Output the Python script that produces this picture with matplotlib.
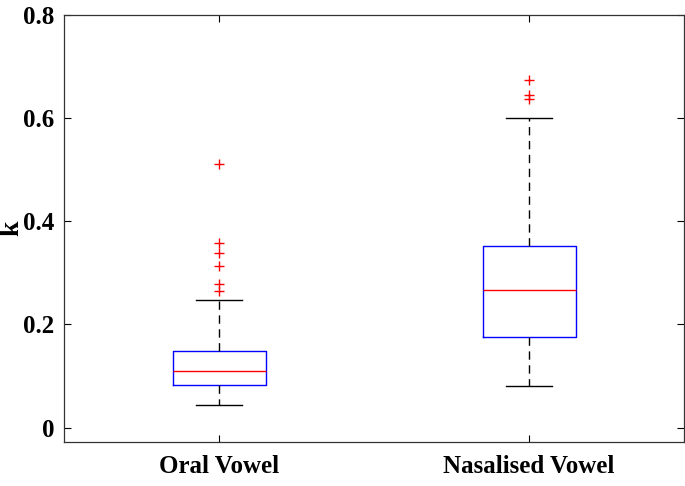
import matplotlib
matplotlib.use("Agg")
import matplotlib.pyplot as plt

# (MATLAB-style boxplot)
labels = ['Oral Vowel', 'Nasalised Vowel']
whislo = [0.043, 0.080]
q1 = [0.082, 0.175]
med = [0.109, 0.267]
q3 = [0.148, 0.352]
whishi = [0.247, 0.601]
fliers = [[0.512, 0.357, 0.338, 0.313, 0.278, 0.265],
          [0.674, 0.645, 0.638]]

plt.rcParams['font.family'] = ['Liberation Serif', 'DejaVu Serif']
plt.rcParams['font.weight'] = 'bold'

stats = []
for i in range(len(labels)):
	stats.append(dict(label=labels[i], whislo=whislo[i], q1=q1[i], med=med[i],
	                  q3=q3[i], whishi=whishi[i], fliers=fliers[i]))

fig = plt.figure(figsize=(6.85, 4.86), dpi=100)
ax = fig.add_axes([64/685, 1-442/486, 620/685, 427/486])

ax.bxp(stats, positions=[1, 2], widths=0.3,
       boxprops=dict(color='blue', lw=1),
       medianprops=dict(color='red', lw=1),
       whiskerprops=dict(color='black', lw=1, linestyle=(0, (6, 4))),
       capprops=dict(color='black', lw=1),
       capwidths=0.15,
       flierprops=dict(marker='+', markeredgecolor='red', markersize=7, linestyle='none'))

ax.set_xlim(0.5, 2.5)
ax.set_ylim(-0.028, 0.8)
ax.set_yticks([0, 0.2, 0.4, 0.6, 0.8])
ax.set_yticklabels(['0', '0.2', '0.4', '0.6', '0.8'])
ax.set_ylabel('k', fontsize=20, fontweight='bold')
ax.yaxis.set_label_coords(-0.064, 0.5)
ax.tick_params(direction='in', length=5, width=0.8, top=True, right=True, labelsize=18, pad=7)
ax.tick_params(axis='x', pad=9)
for lab in ax.get_xticklabels() + ax.get_yticklabels():
	lab.set_fontweight('bold')
for s in ax.spines.values():
	s.set_linewidth(0.9)
	s.set_color('#333333')

fig.savefig('out.png', dpi=100)
